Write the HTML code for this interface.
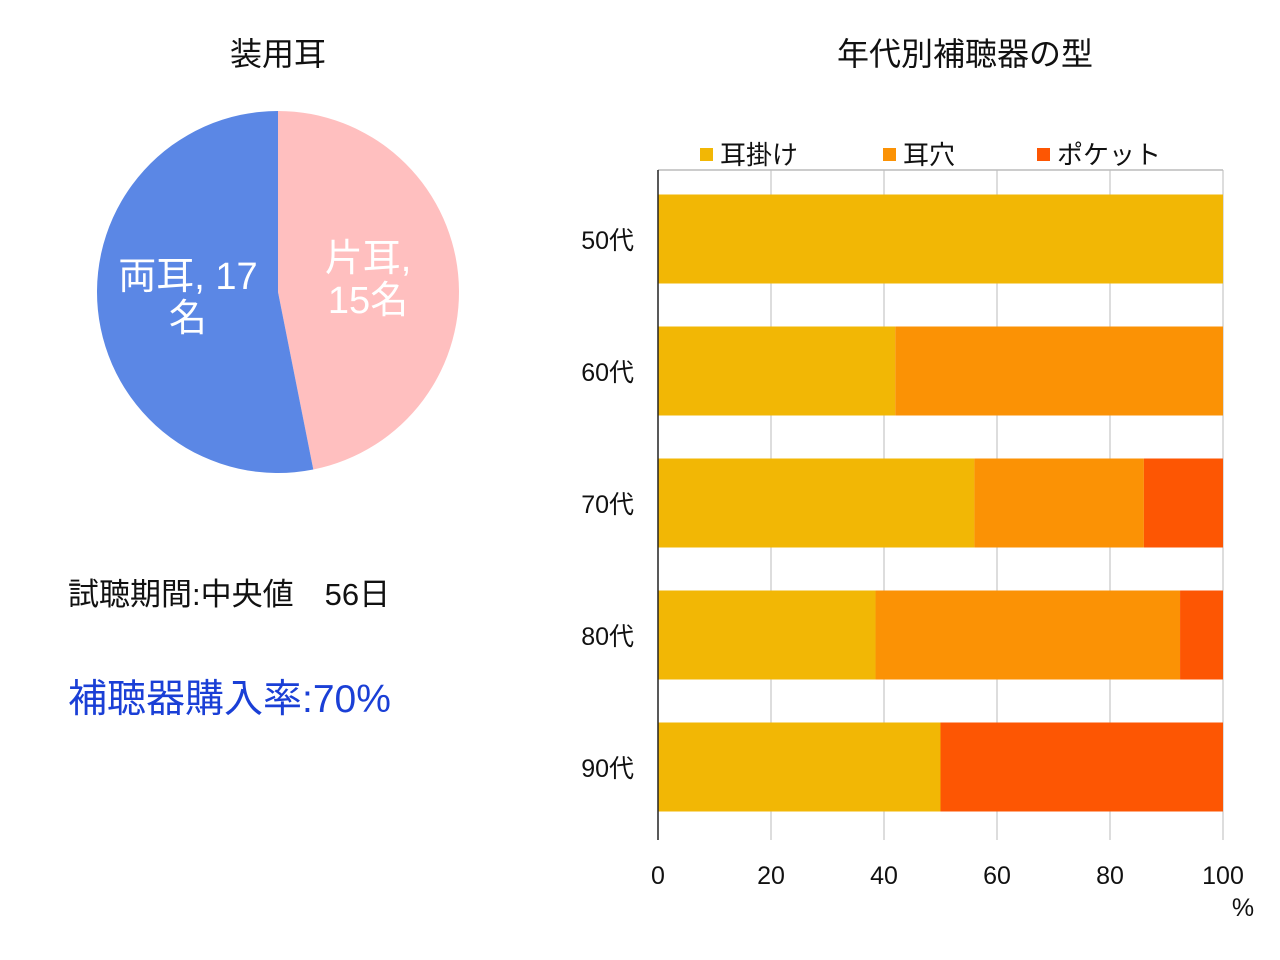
<!DOCTYPE html>
<html><head><meta charset="utf-8"><style>
body{margin:0;background:#fff;}
svg{display:block;font-family:"Liberation Sans","Noto Sans CJK JP",sans-serif;}
</style></head><body>
<svg id="c" width="1280" height="960" viewBox="0 0 1280 960">
<text x="278" y="65" font-size="32" text-anchor="middle" fill="#111">装用耳</text>
<g id="pie"></g>
<text x="68" y="605" font-size="31" fill="#111">試聴期間:中央値　56日</text>
<text x="68" y="712" font-size="39" fill="#1a3fd6">補聴器購入率:70%</text>
<text x="965" y="65" font-size="32" text-anchor="middle" fill="#111">年代別補聴器の型</text>
<g id="legend"></g>
<g id="bars"></g>
</svg>
<script>
const pieLabels=["片耳","両耳"];
const pieValues=[15,17];
const pieColors=["#ffbfbf","#5b87e5"];
const categories=["50代","60代","70代","80代","90代"];
const seriesNames=["耳掛け","耳穴","ポケット"];
const hookValues=[100,42,56,38.5,50];
const canalValues=[0,58,30,53.9,0];
const pocketValues=[0,0,14,7.6,50];
const xTicks=[0,20,40,60,80,100];
const colors=["#f2b705","#fb9205","#fd5603"];
const NS="http://www.w3.org/2000/svg";
function mk(tag,attrs,parent){const e=document.createElementNS(NS,tag);for(const k in attrs)e.setAttribute(k,attrs[k]);parent.appendChild(e);return e;}
// pie
const pie=document.getElementById('pie');
const cx=278,cy=292,r=181;
const tot=pieValues.reduce((a,b)=>a+b,0);
let ang=0;
pieValues.forEach((v,i)=>{
 const a0=ang,a1=ang+v/tot*2*Math.PI;ang=a1;
 const x0=cx+r*Math.sin(a0),y0=cy-r*Math.cos(a0),x1=cx+r*Math.sin(a1),y1=cy-r*Math.cos(a1);
 const p=mk('path',{d:`M${cx},${cy}L${x0},${y0}A${r},${r} 0 ${a1-a0>Math.PI?1:0} 1 ${x1},${y1}Z`,fill:pieColors[i]},pie);
 
 
 const am=(a0+a1)/2,lx=cx+r*0.5*Math.sin(am),ly=cy-r*0.5*Math.cos(am);
 const t=mk('text',{x:lx+(i===0?2:-2),y:ly-12,'font-size':38,'text-anchor':'middle',fill:'#fff'},pie);
 
 
 const s1=mk('tspan',{x:lx,dy:0},t); s1.textContent=i===0?pieLabels[i]+",":pieLabels[i]+", "+v;
 const s2=mk('tspan',{x:lx,dy:42},t); s2.textContent=i===0?v+"名":"名";
});
// bars
const g=document.getElementById('bars');
const X0=658,X1=1223,TOP=170,BOT=840;
const xs=v=>X0+(v-0)/(100-0)*(X1-X0);
const band=(BOT-10-TOP)/categories.length;
const yc=i=>TOP+band*(i+0.5)+3;
mk('line',{x1:X0,y1:TOP,x2:X1,y2:TOP,stroke:'#999'},g);
xTicks.forEach(t=>{
 if(t>0){const l=mk('line',{x1:xs(t),y1:TOP,x2:xs(t),y2:BOT,stroke:'#bbb'},g);
 }
 const tx=mk('text',{x:xs(t),y:884,'font-size':25,'text-anchor':'middle',fill:'#111'},g);
 tx.textContent=t;
 
 
});
const pct=mk('text',{x:1243,y:916,'font-size':25,'text-anchor':'middle',fill:'#111'},g);pct.textContent='%';


const series=[hookValues,canalValues,pocketValues];
const bh=89;
categories.forEach((c,i)=>{
 let acc=0;
 series.forEach((s,j)=>{
  const v=s[i];if(v>0){
   const rc=mk('rect',{x:xs(acc),y:yc(i)-bh/2,width:xs(acc+v)-xs(acc),height:bh,fill:colors[j]},g);
   
   
  }
  acc+=v;
 });
 const lt=mk('text',{x:634,y:yc(i)+10,'font-size':25,'text-anchor':'end',fill:'#111'},g);
 lt.textContent=c;
 
 
});
mk('line',{x1:X0,y1:TOP,x2:X0,y2:BOT,stroke:'#222','stroke-width':1.5},g);
// legend
const lg=document.getElementById('legend');
const lx=[700,883,1037];
seriesNames.forEach((n,i)=>{
 const s=mk('rect',{x:lx[i],y:148,width:13,height:13,fill:colors[i]},lg);
 
 
 const t=mk('text',{x:lx[i]+20,y:164,'font-size':26,fill:'#111'},lg);
 t.textContent=n;
 
 
});
</script>
</body></html>
